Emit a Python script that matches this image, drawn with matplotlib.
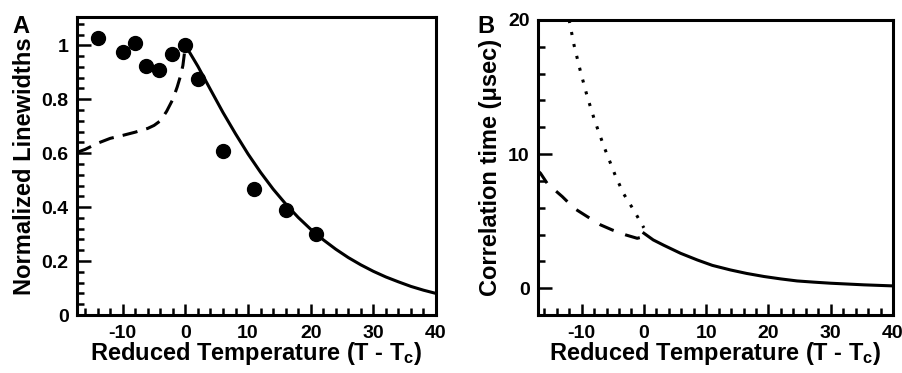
import matplotlib
matplotlib.use('Agg')
import matplotlib.pyplot as plt
from matplotlib.ticker import MultipleLocator

plt.rcParams['font.family'] = ['Liberation Sans', 'DejaVu Sans']
plt.rcParams['font.weight'] = 'bold'
plt.rcParams['mathtext.fontset'] = 'custom'
plt.rcParams['mathtext.rm'] = 'Liberation Sans:bold'
plt.rcParams['mathtext.default'] = 'rm'
plt.rcParams['axes.unicode_minus'] = False

# Panel A: measured linewidths
pts_x = [-14, -10, -8, -6.3, -4.2, -2.1, 0, 2, 6, 11, 16.1, 20.8]
pts_y = [1.027, 0.975, 1.009, 0.923, 0.907, 0.967, 1.0, 0.876, 0.609, 0.467, 0.391, 0.30]

# Panel A: fit above Tc (solid)
fitA_x = [0, 2, 4, 6, 8, 10, 12, 14, 16, 18, 20, 22, 24, 26, 28, 30, 32, 34, 36, 38, 40]
fitA_y = [1.0, 0.922, 0.836, 0.751, 0.672, 0.597, 0.529, 0.467, 0.412, 0.362, 0.318,
          0.279, 0.244, 0.213, 0.186, 0.162, 0.141, 0.123, 0.106, 0.092, 0.080]

# Panel A: model below Tc (dashed)
dashA_x = [-17.3, -16, -14, -12, -10, -8, -6, -5, -4, -3, -2, -1.3, -0.8, -0.4, -0.1]
dashA_y = [0.603, 0.614, 0.637, 0.655, 0.666, 0.678, 0.692, 0.703, 0.72, 0.755, 0.80,
           0.846, 0.885, 0.925, 0.98]

# Panel B: correlation time
solB_x = [0, 0.3, 1.5, 3.2, 5.9, 8.6, 11, 13.9, 16.5, 19.3, 22, 24.6, 27.3, 30, 35.3, 40]
solB_y = [4.1, 4.0, 3.6, 3.2, 2.6, 2.1, 1.7, 1.36, 1.1, 0.87, 0.69, 0.54, 0.45, 0.37, 0.25, 0.17]

dashB_x = [-17, -16.6, -15.5, -13.1, -11.2, -9.1, -6.95, -5.07, -2.9, -1.07, -0.4]
dashB_y = [8.75, 8.57, 7.8, 6.83, 5.96, 5.34, 4.72, 4.34, 3.97, 3.72, 3.8]

dotB_x = [-12, -11.2, -10.2, -9.1, -7.9, -6.4, -4.5, -3.2, -1.6, -0.5, 0]
dotB_y = [20.0, 18.1, 16.2, 14.3, 12.5, 10.55, 8.3, 7.0, 5.8, 4.9, 4.5]

fig = plt.figure(figsize=(9.02, 3.73), dpi=100)
axA = fig.add_axes([77 / 902, 58 / 373, 359 / 902, 298 / 373])
axB = fig.add_axes([538 / 902, 58 / 373, 355 / 902, 295 / 373])

lw = 2.2
for ax in (axA, axB):
    for s in ax.spines.values():
        s.set_linewidth(2.2)
    ax.tick_params(which='both', direction='in', top=False, right=False,
                   labelsize=14, width=1.8)
    ax.tick_params(which='major', length=10, pad=6)
    ax.tick_params(which='minor', length=5)
    ax.tick_params(axis='x', which='major', length=8, pad=7)
    ax.xaxis.set_major_locator(MultipleLocator(10))
    ax.xaxis.set_minor_locator(MultipleLocator(2))
    ax.set_xlabel('Reduced Temperature (T - T$_{\\rm c}$)', fontsize=17,
                  fontweight='bold', labelpad=-1)

# Panel A
axA.plot(fitA_x, fitA_y, color='black', lw=lw)
axA.plot(dashA_x, dashA_y, color='black', lw=lw, dashes=(5, 3))
axA.plot(pts_x, pts_y, 'o', color='black', ms=10)
axA.set_xlim(-17.3, 40)
axA.set_ylim(0, 1.105)
axA.yaxis.set_minor_locator(MultipleLocator(0.04))
axA.set_yticks([0, 0.2, 0.4, 0.6, 0.8, 1.0])
axA.set_yticklabels(['0', '0.2', '0.4', '0.6', '0.8', '1'])
axA.set_ylabel('Normalized Linewidths', fontsize=17, fontweight='bold', labelpad=4)
fig.text(12 / 902, 1 - 33 / 373, 'A', fontsize=17, fontweight='bold', va='baseline')

# Panel B
axB.plot(solB_x, solB_y, color='black', lw=lw)
axB.plot(dashB_x, dashB_y, color='black', lw=lw, dashes=(5, 4))
axB.plot(dotB_x, dotB_y, color='black', lw=lw, dashes=(1, 3))
axB.set_xlim(-17, 40)
axB.set_ylim(-2, 20)
axB.yaxis.set_major_locator(MultipleLocator(10))
axB.yaxis.set_minor_locator(MultipleLocator(2))
axB.set_ylabel('Correlation time (μsec)', fontsize=17, fontweight='bold', labelpad=4)
fig.text(477 / 902, 1 - 33 / 373, 'B', fontsize=17, fontweight='bold', va='baseline')

fig.savefig('out.png', dpi=100)
